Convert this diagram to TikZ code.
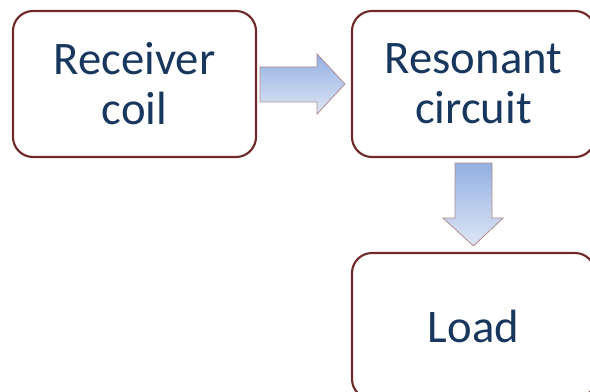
\documentclass[tikz,border=0pt]{standalone}
\usepackage{fontspec}
\setmainfont{Carlito}
\usetikzlibrary{calc}
\definecolor{boxedge}{RGB}{112,42,40}
\definecolor{boxtext}{RGB}{23,55,94}
\definecolor{arrowtop}{RGB}{146,176,226}
\definecolor{arrowbot}{RGB}{222,230,245}
\definecolor{arrowedge}{RGB}{178,140,140}
\tikzset{
  stage/.style={draw=boxedge, line width=1.6pt, rounded corners=15pt, fill=white,
    minimum width=182.25pt, minimum height=109.5pt, inner sep=0pt,
    align=center, text=boxtext,
    font=\fontsize{35pt}{37.5pt}\selectfont},
  blockarrow/.style={draw=arrowedge, line width=0.6pt, top color=arrowtop, bottom color=arrowbot}
}
\begin{document}
\begin{tikzpicture}[x=0.75pt, y=-0.75pt]
\useasboundingbox (0,0) rectangle (590,392);
\clip (0,0) rectangle (590,392);
\fill[white] (0,0) rectangle (590,392);

\node[stage] (coil) at (134.5,84) {Receiver\\coil};
\node[stage] (res) at (473.5,84) {Resonant\\circuit};
\node[stage] (load) at (473.5,326) {Load};

% right block arrow from the coil to the resonant circuit
\shade[blockarrow]
  ($(coil.east)+(3,-17)$) -- ($(coil.east)+(60,-17)$) -- ($(coil.east)+(60,-30)$)
  -- ($(res.west)+(-6,0)$)
  -- ($(coil.east)+(60,30)$) -- ($(coil.east)+(60,18)$) -- ($(coil.east)+(3,18)$) -- cycle;

% down block arrow from the resonant circuit to the load
\shade[blockarrow]
  ($(res.south)+(-18.5,5)$) -- ($(res.south)+(18.5,5)$) -- ($(res.south)+(18.5,60)$)
  -- ($(res.south)+(29.5,60)$) -- ($(load.north)+(0,-6)$)
  -- ($(res.south)+(-30.5,60)$) -- ($(res.south)+(-18.5,60)$) -- cycle;
\end{tikzpicture}
\end{document}
